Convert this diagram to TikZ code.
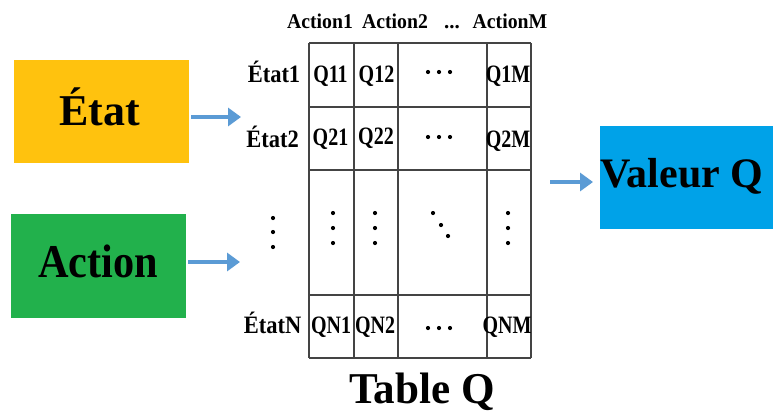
\documentclass[tikz,border=0pt]{standalone}
\usepackage{fontspec}
\setmainfont{Liberation Serif}
\usetikzlibrary{arrows.meta}

\definecolor{etatgold}{HTML}{FFC20E}
\definecolor{actiongreen}{HTML}{22B14C}
\definecolor{valeurblue}{HTML}{00A2E8}
\definecolor{flowblue}{HTML}{5B9BD5}
\definecolor{gridgray}{HTML}{444444}

\newcommand{\sq}[2]{\scalebox{#1}[1]{#2}}

\begin{document}
\begin{tikzpicture}[x=1pt,y=-1pt,
  colorbox/.style={draw=none,inner sep=0pt,anchor=north west},
  bigtext/.style={font=\fontsize{44}{44}\selectfont\bfseries,inner sep=0pt,anchor=base},
  rowlab/.style={font=\fontsize{25}{25}\selectfont\bfseries,inner sep=0pt,anchor=base},
  celltext/.style={font=\fontsize{25}{25}\selectfont\bfseries,inner sep=0pt,anchor=base},
  headtext/.style={font=\fontsize{21}{21}\selectfont\bfseries,inner sep=0pt,anchor=base},
  flow/.style={line width=4pt,draw=flowblue,-{Triangle[length=13pt,width=18pt]}},
  gridline/.style={line width=2pt,draw=gridgray},
  dotmark/.style={fill=black,draw=none}]

\useasboundingbox (0,0) rectangle (773,416);
\fill[white] (0,0) rectangle (773,416);

% coloured input / output boxes
\node[colorbox,fill=etatgold,minimum width=175pt,minimum height=103pt] (etat) at (14,60) {};
\node[colorbox,fill=actiongreen,minimum width=175pt,minimum height=104pt] (action) at (11,214) {};
\node[colorbox,fill=valeurblue,minimum width=173pt,minimum height=103pt] (valeur) at (600,126) {};

\node[bigtext] (etatlab) at (99.5,125) {État};
\node[bigtext,font=\fontsize{47}{47}\selectfont\bfseries] (actionlab) at (98,277) {\sq{0.9}{Action}};
\node[bigtext,font=\fontsize{42}{42}\selectfont\bfseries,anchor=base west] (valeurlab) at (600,187) {Valeur Q};

% the Q table grid
\coordinate (tl) at (309,43);
\coordinate (br) at (531,358);
\foreach \xx in {309,354,398,487,531}
  \draw[gridline] (\xx,43) -- (\xx,358);
\foreach \yy in {43,107,170,295,358}
  \draw[gridline] (309,\yy) -- (531,\yy);

\node[bigtext] (tablelab) at (422,403) {\sq{0.98}{Table Q}};

% column headers
\node[headtext] (h1) at (320,28) {\sq{0.94}{Action1}};
\node[headtext] (h2) at (395,28) {\sq{0.94}{Action2}};
\node[headtext] (h3) at (452,28) {...};
\node[headtext] (hm) at (510,28) {\sq{0.94}{ActionM}};

% row labels
\node[rowlab] (r1) at (274,82) {\sq{0.9}{État1}};
\node[rowlab] (r2) at (272.5,147) {\sq{0.9}{État2}};
\node[rowlab] (rn) at (272.5,333) {\sq{0.9}{ÉtatN}};

% cell contents
\node[celltext] (q11) at (330.5,82) {\sq{0.8}{Q11}};
\node[celltext] (q12) at (376.5,82) {\sq{0.8}{Q12}};
\node[celltext] (q1m) at (508,82) {\sq{0.8}{Q1M}};
\node[celltext] (q21) at (330.5,145) {\sq{0.8}{Q21}};
\node[celltext] (q22) at (376,144) {\sq{0.8}{Q22}};
\node[celltext] (q2m) at (508,147) {\sq{0.8}{Q2M}};
\node[celltext] (qn1) at (331,333) {\sq{0.8}{QN1}};
\node[celltext] (qn2) at (375,333) {\sq{0.8}{QN2}};
\node[celltext] (qnm) at (507,333) {\sq{0.8}{QNM}};

% ellipsis dots
\foreach \yy in {72,137,328}
  \foreach \xx in {428,439,450}
    \fill[dotmark] (\xx,\yy) circle (2.1pt);
\foreach \yy in {218,232,247}
  \fill[dotmark] (273,\yy) circle (2.1pt);
\foreach \xx in {333,375,508}
  \foreach \yy in {213,228,243}
    \fill[dotmark] (\xx,\yy) circle (2.1pt);
\fill[dotmark] (433,213) circle (2.1pt);
\fill[dotmark] (441,225) circle (2.1pt);
\fill[dotmark] (448,236) circle (2.1pt);

% flow arrows
\coordinate (in1) at (241,117);
\coordinate (in2) at (240,262);
\coordinate (out0) at (550,182);
\draw[flow] (etat.east |- in1) ++(2,0) coordinate (s1) -- (in1);
\draw[flow] (action.east |- in2) ++(2,0) coordinate (s2) -- (in2);
\draw[flow] (out0) -- ([xshift=-7pt]valeur.west |- out0);
\end{tikzpicture}
\end{document}
